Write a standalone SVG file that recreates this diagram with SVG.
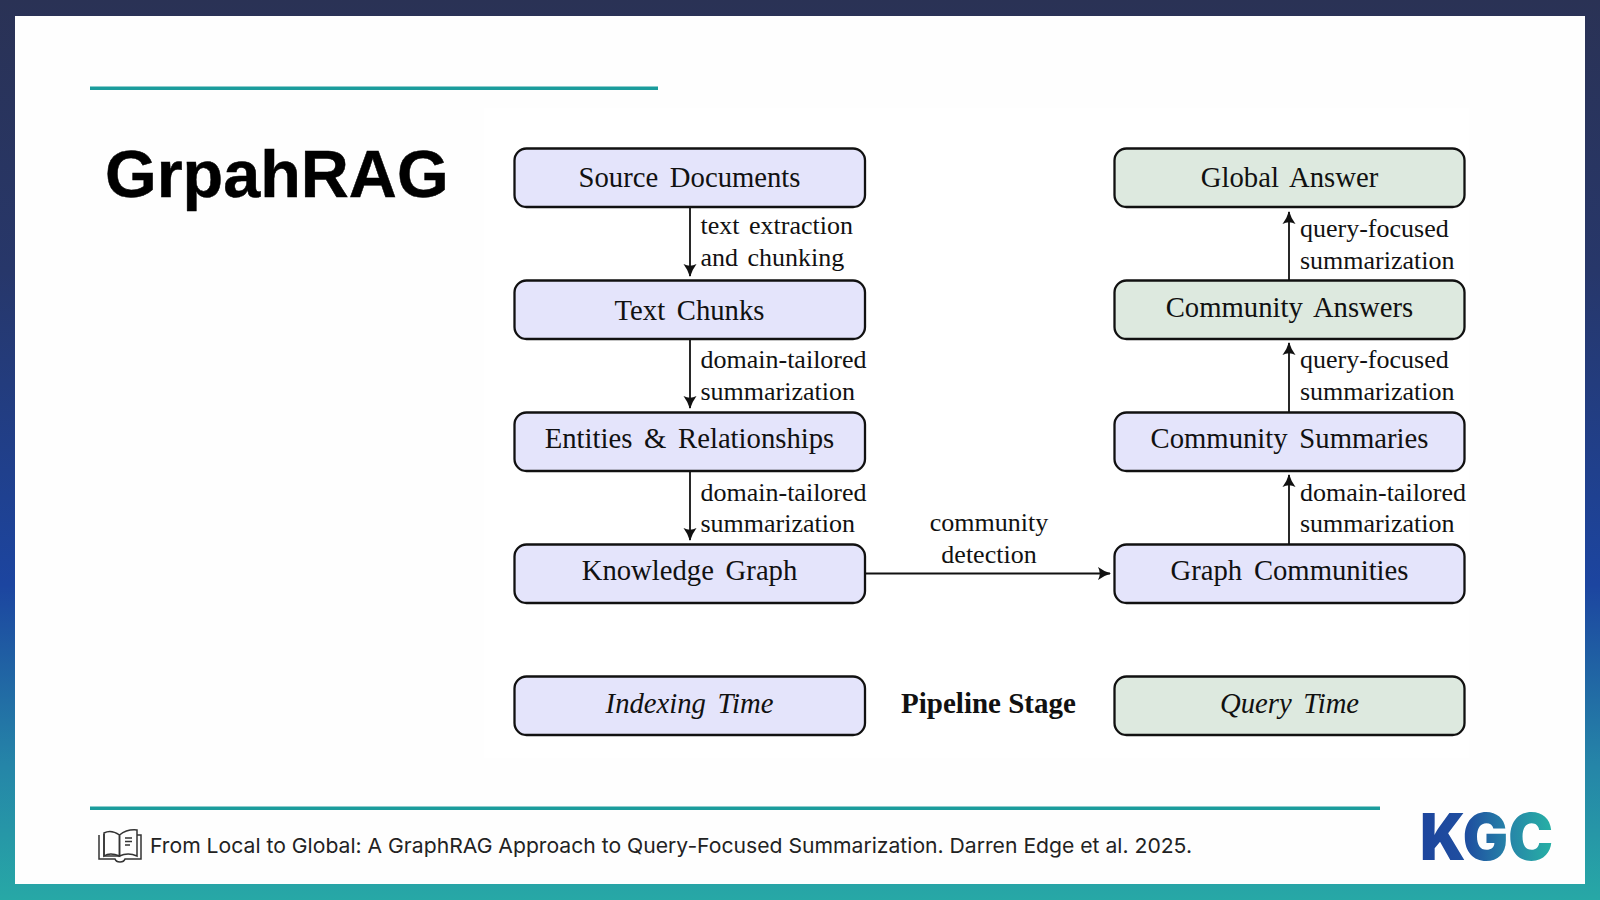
<svg xmlns="http://www.w3.org/2000/svg" width="1600" height="900" viewBox="0 0 1600 900">
<style>
.box{stroke:#111;stroke-width:2.3}
.idx{fill:#e4e4fb}
.qry{fill:#dde9df}
.node{font-family:"Liberation Serif",serif;font-size:28.7px;fill:#111;text-anchor:middle;word-spacing:4.500px}
.lab{font-family:"Liberation Serif",serif;font-size:26px;fill:#111;word-spacing:3px}
.mid{text-anchor:middle}
.conn{stroke:#111;stroke-width:1.8;fill:none;marker-end:url(#ah)}
.rule{fill:#1b9c9c}
</style>
<defs>
<linearGradient id="bg" x1="0" y1="0" x2="0" y2="1">
<stop offset="0" stop-color="#2a3255"/><stop offset="0.3" stop-color="#27376a"/><stop offset="0.65" stop-color="#1c45a0"/><stop offset="0.85" stop-color="#2585a8"/><stop offset="1" stop-color="#27a8a6"/>
</linearGradient>
<linearGradient id="kgc" gradientUnits="userSpaceOnUse" x1="1422" y1="0" x2="1552" y2="0">
<stop offset="0" stop-color="#1d459d"/><stop offset="0.35" stop-color="#1f4fa0"/><stop offset="0.65" stop-color="#2682a8"/><stop offset="1" stop-color="#27b0a5"/>
</linearGradient>
<marker id="ah" markerUnits="userSpaceOnUse" markerWidth="16" markerHeight="16" refX="12" refY="7" orient="auto">
<path d="M0 0.500Q6 5 13 7Q6 9 0 13.500Q3.500 7 0 0.500Z" fill="#111"/>
</marker>
</defs>
<rect width="1600" height="900" fill="url(#bg)"/>
<rect x="15" y="16" width="1570" height="868" fill="#fefefe"/>
<rect x="484" y="108" width="985" height="650" fill="#fff"/>
<rect class="rule" x="90" y="86.500" width="568" height="3.500"/>
<rect class="rule" x="90" y="806.500" width="1290" height="3.500"/>
<text id="title" x="105" y="197" font-family="Liberation Sans, sans-serif" font-weight="700" font-size="66.500" fill="#000" stroke="#000" stroke-width="0.500">GrpahRAG</text>

<g id="connectors">
<path class="conn" d="M690 207V276"/>
<path class="conn" d="M690 339V408"/>
<path class="conn" d="M690 471V540"/>
<path class="conn" d="M865 573.500H1110"/>
<path class="conn" d="M1289 544V475"/>
<path class="conn" d="M1289 412V343"/>
<path class="conn" d="M1289 280V212"/>
</g>

<g id="source-documents"><rect class="box idx" x="514.500" y="148.500" width="350.500" height="58.500" rx="12"/><text class="node" x="689.500" y="187">Source Documents</text></g>
<g id="text-chunks"><rect class="box idx" x="514.500" y="280.500" width="350.500" height="58.500" rx="12"/><text class="node" x="689.500" y="320">Text Chunks</text></g>
<g id="entities"><rect class="box idx" x="514.500" y="412.500" width="350.500" height="58.500" rx="12"/><text class="node" x="689.500" y="448">Entities &amp; Relationships</text></g>
<g id="knowledge-graph"><rect class="box idx" x="514.500" y="544.500" width="350.500" height="58.500" rx="12"/><text class="node" x="689.500" y="580">Knowledge Graph</text></g>
<g id="indexing-time"><rect class="box idx" x="514.500" y="676.500" width="350.500" height="58.500" rx="12"/><text class="node" font-style="italic" x="689.500" y="713">Indexing Time</text></g>
<g id="global-answer"><rect class="box qry" x="1114.500" y="148.500" width="350" height="58.500" rx="12"/><text class="node" x="1289.500" y="187">Global Answer</text></g>
<g id="community-answers"><rect class="box qry" x="1114.500" y="280.500" width="350" height="58.500" rx="12"/><text class="node" x="1289.500" y="317">Community Answers</text></g>
<g id="community-summaries"><rect class="box idx" x="1114.500" y="412.500" width="350" height="58.500" rx="12"/><text class="node" x="1289.500" y="448">Community Summaries</text></g>
<g id="graph-communities"><rect class="box idx" x="1114.500" y="544.500" width="350" height="58.500" rx="12"/><text class="node" x="1289.500" y="580">Graph Communities</text></g>
<g id="query-time"><rect class="box qry" x="1114.500" y="676.500" width="350" height="58.500" rx="12"/><text class="node" font-style="italic" x="1289.500" y="713">Query Time</text></g>

<g id="labels">
<text class="lab" x="700.500" y="234">text extraction</text>
<text class="lab" x="700.500" y="266">and chunking</text>
<text class="lab" x="700.500" y="368">domain-tailored</text>
<text class="lab" x="700.500" y="400">summarization</text>
<text class="lab" x="700.500" y="501">domain-tailored</text>
<text class="lab" x="700.500" y="532">summarization</text>
<text class="lab" x="1300" y="237">query-focused</text>
<text class="lab" x="1300" y="268.500">summarization</text>
<text class="lab" x="1300" y="368">query-focused</text>
<text class="lab" x="1300" y="400">summarization</text>
<text class="lab" x="1300" y="501">domain-tailored</text>
<text class="lab" x="1300" y="532">summarization</text>
<text class="lab mid" x="989" y="531">community</text>
<text class="lab mid" x="989" y="563">detection</text>
<text id="pipeline-stage" x="988.500" y="713" font-family="Liberation Serif, serif" font-weight="700" font-size="29" fill="#111" text-anchor="middle">Pipeline Stage</text>
</g>

<g id="book-icon" fill="none" stroke="#333" stroke-width="1.500">
<path d="M104 834V856H119"/>
<path d="M99 835V859H115Q116 862 120 862Q124 862 125 859H141V835H137"/>
<path d="M104 856Q110 852 119.500 856V835Q111 829 104 833Z"/>
<path d="M119.500 856Q128 852 137 856V830Q127 829 119.500 835Z"/>
<path d="M125 838H132M125 841.500H132M125 845H130"/>
</g>
<text id="citation" x="150" y="853" font-family="Inter, sans-serif" font-size="20.500" fill="#222" textLength="1042" lengthAdjust="spacingAndGlyphs">From Local to Global: A GraphRAG Approach to Query-Focused Summarization. Darren Edge et al. 2025.</text>
<text id="logo" x="1420" y="860" font-family="Inter, sans-serif" font-weight="900" font-size="65" fill="url(#kgc)" textLength="133" lengthAdjust="spacingAndGlyphs">KGC</text>
</svg>
